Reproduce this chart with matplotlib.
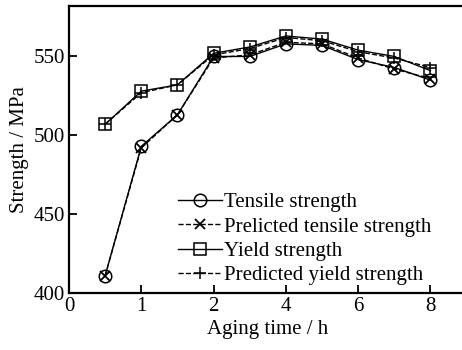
import numpy as np
import matplotlib
matplotlib.use("Agg")
import matplotlib.pyplot as plt

plt.rcParams['font.family'] = ['Liberation Serif', 'DejaVu Serif']
plt.rcParams['mathtext.fontset'] = 'stix'

time_h = [0.5, 1, 1.5, 2, 3, 4, 5, 6, 7, 8]
tensile = [411, 493, 513, 550, 550, 558, 557, 548, 543, 535]
pred_tensile = [411, 492, 513, 549, 551, 559, 558, 549, 542, 536]
yield_s = [507, 528, 532, 552, 556, 563, 561, 554, 550, 541]
pred_yield = [507, 527, 532, 551, 555, 562, 560, 553, 549, 543]
xticks = [0, 1, 2, 4, 6, 8]
yticks = [400, 450, 500, 550]


def fwd(t):
    t = np.asarray(t, dtype=float)
    return np.where(t <= 2, t, 2 + (t - 2) / 2)


def inv(p):
    p = np.asarray(p, dtype=float)
    return np.where(p <= 2, p, 2 + (p - 2) * 2)


fig = plt.figure(figsize=(4.62, 3.5), dpi=100)
ax = fig.add_axes([69 / 462, 1 - 293 / 350, 1 - 69 / 462 + 0.01, 287 / 350])
ax.set_xscale('function', functions=(fwd, inv))

lw = 1.0
ax.plot(time_h, tensile, '-', color='black', lw=lw, marker='o', ms=9,
        mfc='none', mec='black', mew=1.1, label='Tensile strength')
ax.plot(time_h, pred_tensile, '--', color='black', lw=lw, marker='x', ms=7,
        mew=1.3, label='Prelicted tensile strength')
ax.plot(time_h, yield_s, '-', color='black', lw=lw, marker='s', ms=8,
        mfc='none', mec='black', mew=1.1, label='Yield strength')
ax.plot(time_h, pred_yield, '--', color='black', lw=lw, marker='+', ms=9,
        mew=1.1, label='Predicted yield strength')

ax.set_xlim(0, 9.0)
ax.set_ylim(400, 582)
ax.set_xticks(xticks)
ax.set_xticklabels([str(v) for v in xticks])
ax.set_yticks(yticks)
ax.xaxis.set_minor_locator(matplotlib.ticker.NullLocator())
ax.tick_params(direction='in', length=6, width=1.3, labelsize=15, pad=3)
ax.tick_params(axis='x', which='both', top=False)
for s in ['left', 'bottom', 'top']:
    ax.spines[s].set_linewidth(1.6)
ax.spines['right'].set_visible(False)

ax.set_xlabel('Aging time / h', fontsize=15, labelpad=3)
ax.set_ylabel('Strength / MPa', fontsize=15, labelpad=3)

leg = ax.legend(loc='upper left', bbox_to_anchor=(0.275, 0.35), frameon=False,
                fontsize=15, handlelength=2.1, handletextpad=0.1,
                labelspacing=0.23, borderpad=0, borderaxespad=0)

fig.savefig('out.png', dpi=100)
